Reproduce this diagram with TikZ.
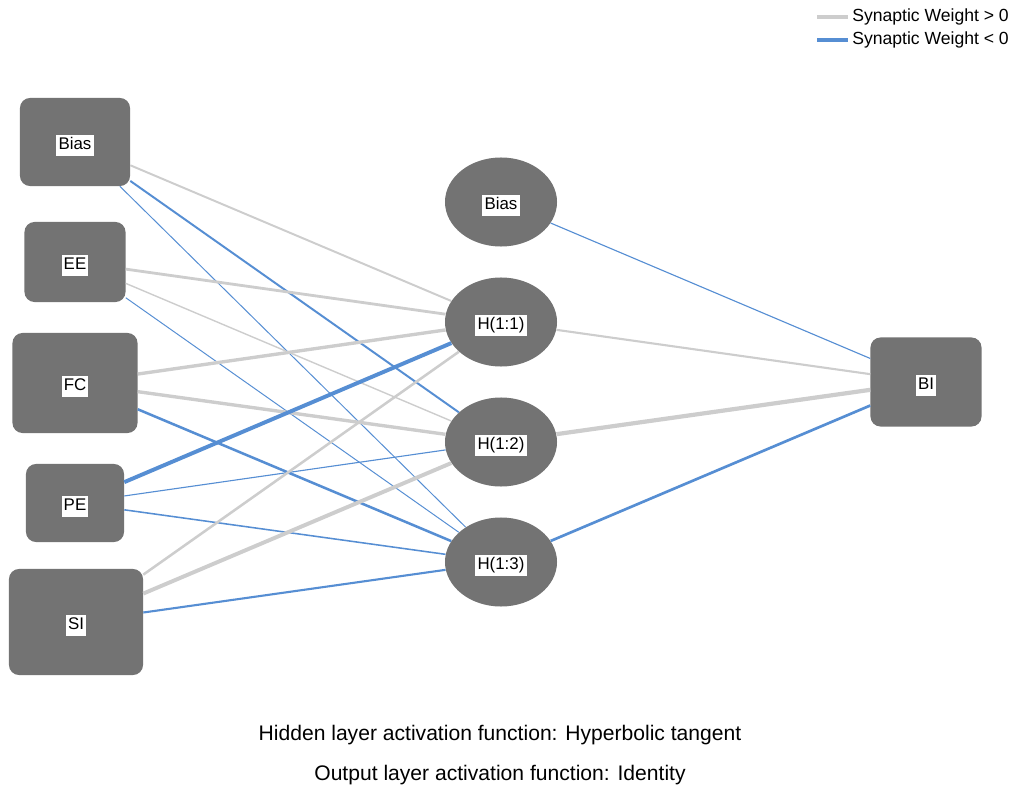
\documentclass[tikz,border=0pt]{standalone}
\usepackage{fontspec}
\setmainfont{Liberation Sans}
\usepackage{tikz}
\usetikzlibrary{shapes.geometric}

\definecolor{nodegray}{RGB}{115,115,115}
\definecolor{posgray}{RGB}{205,205,205}
\definecolor{negblue}{RGB}{86,142,211}

\newcommand{\lbl}[1]{{\setlength{\fboxsep}{0pt}\raisebox{-2.5pt}[\height][\depth]{\colorbox{white}{\rule[-0.38em]{0pt}{1.2em}\hspace{1.5pt}#1\hspace{1.5pt}}}}}

\begin{document}
\begin{tikzpicture}[x=0.025cm, y=-0.025cm,
    box/.style={draw=none, fill=nodegray, rounded corners=0.25cm, inner sep=0pt, font=\fontsize{12}{14}\selectfont},
    oval/.style={ellipse, draw=none, fill=nodegray, inner sep=0pt, minimum width=2.8cm, minimum height=2.225cm, font=\fontsize{12}{14}\selectfont},
    posw/.style={draw=posgray},
    negw/.style={draw=negblue}]
  \useasboundingbox (0,0) rectangle (1012,787);

  % input layer
  \node [box, minimum width=2.75cm, minimum height=2.2cm] (in1) at (75,142) {\lbl{Bias}};
  \node [box, minimum width=2.525cm, minimum height=2cm] (in2) at (75,262) {\lbl{EE}};
  \node [box, minimum width=3.125cm, minimum height=2.5cm] (in3) at (75,383) {\lbl{FC}};
  \node [box, minimum width=2.45cm, minimum height=1.95cm] (in4) at (75,503) {\lbl{PE}};
  \node [box, minimum width=3.35cm, minimum height=2.65cm] (in5) at (76,622) {\lbl{SI}};

  % hidden layer
  \node [oval] (hb) at (501,202) {\lbl{Bias}};
  \node [oval] (h1) at (501,322) {\lbl{H(1:1)}};
  \node [oval] (h2) at (501,442) {\lbl{H(1:2)}};
  \node [oval] (h3) at (501,562) {\lbl{H(1:3)}};

  % output layer
  \node [box, minimum width=2.775cm, minimum height=2.225cm] (out) at (926,382) {\lbl{BI}};

  % weights
  \draw [posw, line width=1.4pt] (in1) -- (h1);
  \draw [negw, line width=1.4pt] (in1) -- (h2);
  \draw [negw, line width=0.7pt] (in1) -- (h3);
  \draw [posw, line width=2pt] (in2) -- (h1);
  \draw [posw, line width=1pt] (in2) -- (h2);
  \draw [negw, line width=0.7pt] (in2) -- (h3);
  \draw [posw, line width=2.4pt] (in3) -- (h1);
  \draw [posw, line width=2.4pt] (in3) -- (h2);
  \draw [negw, line width=1.8pt] (in3) -- (h3);
  \draw [negw, line width=2.8pt] (in4) -- (h1);
  \draw [negw, line width=0.8pt] (in4) -- (h2);
  \draw [negw, line width=1.1pt] (in4) -- (h3);
  \draw [posw, line width=1.8pt] (in5) -- (h1);
  \draw [posw, line width=2.8pt] (in5) -- (h2);
  \draw [negw, line width=1.5pt] (in5) -- (h3);
  \draw [negw, line width=0.8pt] (hb) -- (out);
  \draw [posw, line width=1.5pt] (h1) -- (out);
  \draw [posw, line width=3pt] (h2) -- (out);
  \draw [negw, line width=1.9pt] (h3) -- (out);

  % legend
  \coordinate (lg1) at (817,17);
  \coordinate (lg2) at (817,40);
  \node [anchor=west, inner sep=0pt, font=\fontsize{12.5}{14}\selectfont] (lgp) at (852,17) {Synaptic Weight > 0};
  \node [anchor=west, inner sep=0pt, font=\fontsize{12.5}{14}\selectfont] (lgn) at (852,40) {Synaptic Weight < 0};
  \draw [posw, line width=2.8pt, shorten >=0.1cm] (lg1) -- (lgp.west);
  \draw [negw, line width=2.8pt, shorten >=0.1cm] (lg2) -- (lgn.west);

  \node [font=\fontsize{15}{18}\selectfont] (note1) at (500,735) {Hidden layer activation function: Hyperbolic tangent};
  \node [font=\fontsize{15}{18}\selectfont] (note2) at (500,775) {Output layer activation function: Identity};
\end{tikzpicture}
\end{document}
